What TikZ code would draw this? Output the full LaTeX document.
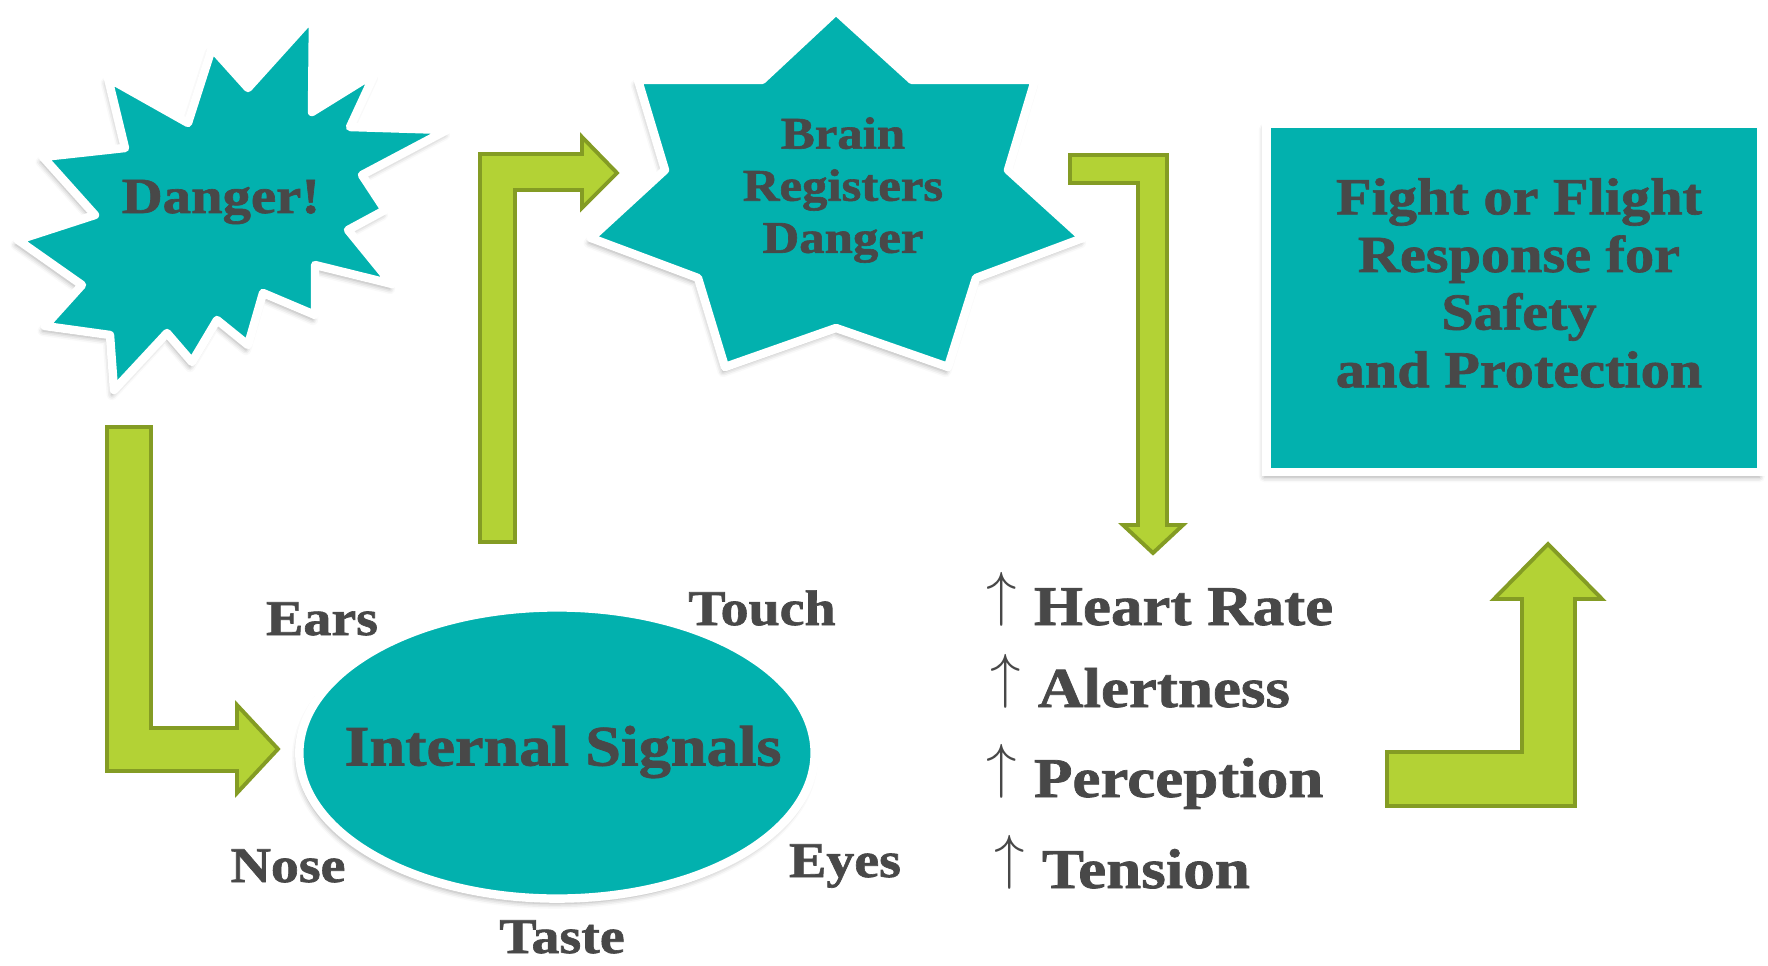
\documentclass[tikz,border=0pt]{standalone}
\usepackage{fontspec}
\setmainfont{Liberation Serif}[FakeStretch=1.12, BoldFeatures={FakeBold=1.3}]
\usetikzlibrary{arrows.meta,positioning,calc,shapes.geometric,shadows.blur}

\definecolor{alarmteal}{RGB}{2,177,174}
\definecolor{arrowgreen}{RGB}{179,210,53}
\definecolor{arrowrim}{RGB}{132,156,36}
\definecolor{inkgray}{RGB}{72,72,72}

\newcommand{\rise}{\raisebox{.19em}{$\uparrow$}\hspace{.3em}}

\begin{document}
\begin{tikzpicture}[x=0.01cm, y=-0.01cm,
  softshadow/.style={blur shadow={shadow xshift=-0.6pt, shadow yshift=-1.4pt, shadow blur radius=1.5pt, shadow opacity=35}},
  burst/.style={fill=alarmteal, draw=white, line width=2.4pt, line join=round, softshadow},
  elbowarrow/.style={fill=arrowgreen, draw=arrowrim, line width=1.1pt},
  word/.style={text=inkgray, inner sep=0pt},
  bigword/.style={word, font=\bfseries\fontsize{14.4}{17}\selectfont},
  starword/.style={word, align=center, font=\bfseries\fontsize{12.9}{14.8}\selectfont},
  boxword/.style={word, align=center, font=\bfseries\fontsize{14.8}{16.4}\selectfont},
  senseword/.style={word, font=\bfseries\fontsize{14.2}{17}\selectfont},
  riseword/.style={word, font=\bfseries\fontsize{16}{18}\selectfont}]
\useasboundingbox (0,0) rectangle (1768,966);

% green elbow arrows
\filldraw[elbowarrow] (107,427) -- (151,427) -- (151,728) -- (237,728) -- (237,705) -- (278,749)
  -- (237,793) -- (237,771) -- (107,771) -- cycle;
\filldraw[elbowarrow] (480,542) -- (480,154) -- (582,154) -- (582,137) -- (617,173) -- (582,208)
  -- (582,190) -- (515,190) -- (515,542) -- cycle;
\filldraw[elbowarrow] (1070,155) -- (1167,155) -- (1167,525) -- (1183,525) -- (1153,553) -- (1123,525)
  -- (1138,525) -- (1138,183) -- (1070,183) -- cycle;
\filldraw[elbowarrow] (1387,806) -- (1387,752) -- (1522,752) -- (1522,599) -- (1494,599) -- (1548,544)
  -- (1602,599) -- (1575,599) -- (1575,806) -- cycle;

% danger burst
\filldraw[burst] (313,16) -- (312,112) -- (375,73) -- (350,127) -- (447,130) -- (362,175)
  -- (385,210) -- (348,230) -- (392,284) -- (315,265) -- (315,315) -- (263,293) -- (248,345)
  -- (217,320) -- (192,362) -- (167,333) -- (114,390) -- (110,335) -- (45,326) -- (82,285)
  -- (18,240) -- (95,215) -- (43,157) -- (125,148) -- (108,78) -- (188,123) -- (212,48)
  -- (248,88) -- cycle;
\node (danger) [bigword] at (221,202) {Danger!};

% brain star
\filldraw[burst] (836,11) -- (912,80) -- (1035,80) -- (1008,170) -- (1083,238) -- (976,278)
  -- (948,367) -- (836,328) -- (725,367) -- (698,278) -- (591,238) -- (665,170)
  -- (638,80) -- (762,80) -- cycle;
\node (brain) [starword] at (843,190) {Brain\\Registers\\Danger};

% response box
\node (response) [rectangle, fill=alarmteal, draw=white, line width=2.4pt, minimum width=4.95cm,
  minimum height=3.48cm, softshadow] at (1514,298) {};
\node (responsetext) [boxword] at (1519,283) {Fight or Flight\\Response for\\Safety\\and Protection};

% senses
\node (signals) [ellipse, fill=alarmteal, draw=white, line width=2.4pt, minimum width=5.15cm,
  minimum height=2.91cm, inner sep=0pt, softshadow] at (557,753) {};
\node (signalstext) [word, font=\bfseries\fontsize{16.3}{19}\selectfont] at (563,752) {Internal Signals};
\node (ears)  [senseword, anchor=base] at (322,635) {Ears};
\node (touch) [senseword, anchor=base] at (762,625) {Touch};
\node (nose)  [senseword, anchor=base] at (288,882) {Nose};
\node (eyes)  [senseword, anchor=base] at (845,877) {Eyes};
\node (taste) [senseword, anchor=base] at (562,953) {Taste};

% body changes
\node (heart)      [riseword, anchor=base west] at (986,625) {\rise Heart Rate};
\node (alert)      [riseword, anchor=base west] at (990,707) {\rise Alertness};
\node (perception) [riseword, anchor=base west] at (986,797) {\rise Perception};
\node (tension)    [riseword, anchor=base west] at (994,888) {\rise Tension};
\end{tikzpicture}
\end{document}
